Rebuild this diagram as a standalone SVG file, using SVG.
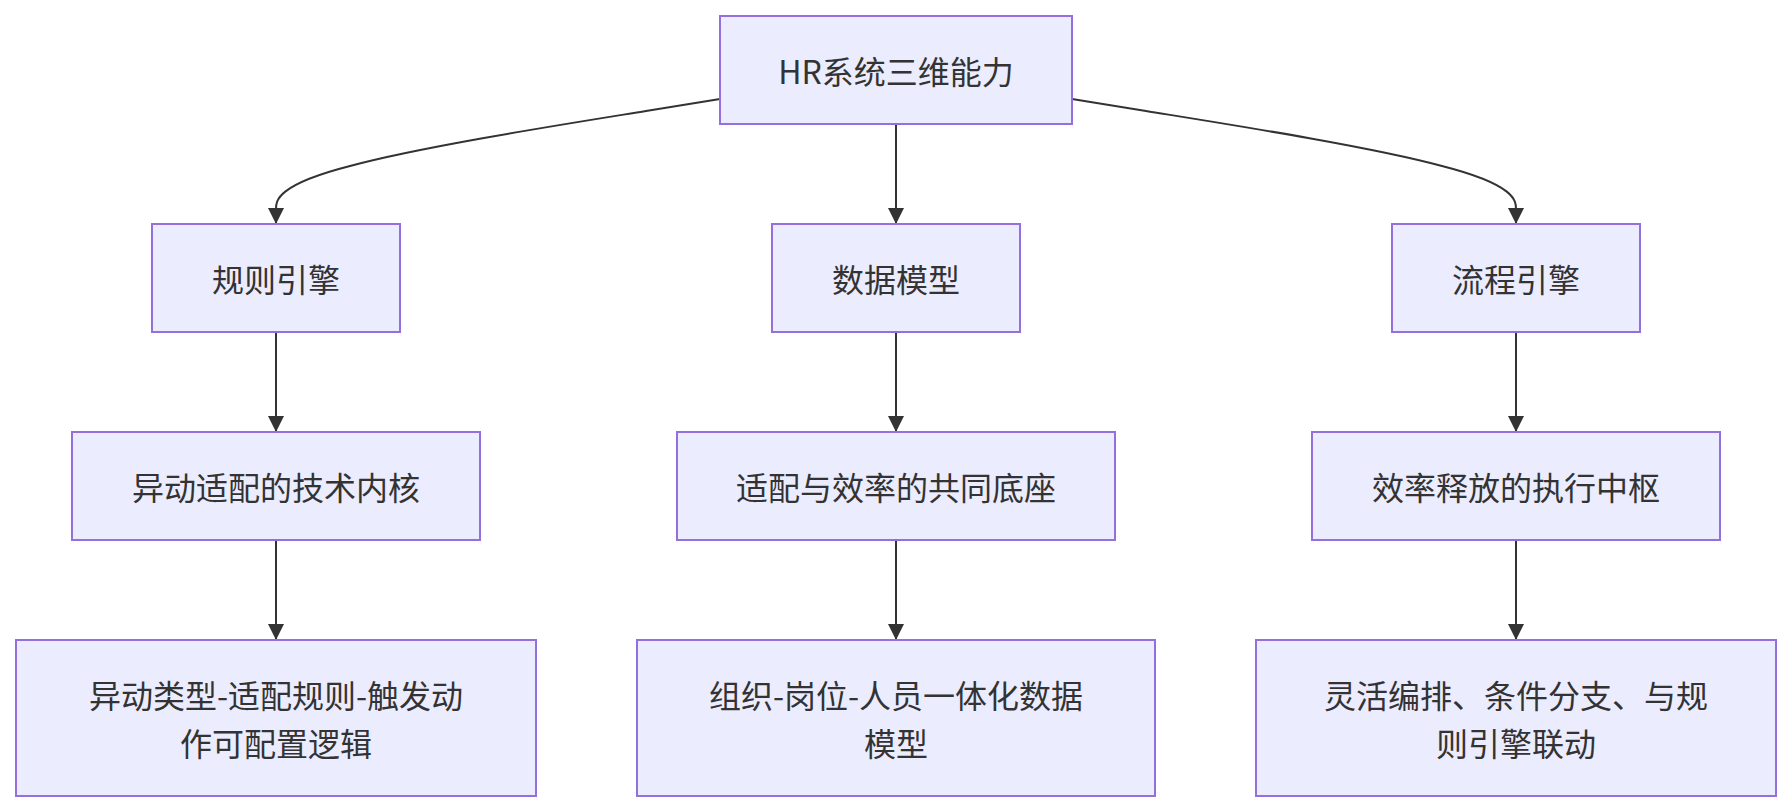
<svg xmlns="http://www.w3.org/2000/svg" width="1792" height="812" viewBox="0 0 1792 812">
<style>
.node rect{fill:#ECECFF;stroke:#9370DB;stroke-width:2;}
.node text{font-family:"Noto Sans CJK SC","Noto Sans",sans-serif;font-size:32px;fill:#333333;text-anchor:middle;dominant-baseline:central;}
.edge{fill:none;stroke:#333333;stroke-width:2;}
</style>
<defs>
<marker id="arrow" viewBox="0 0 10 10" refX="10" refY="5" markerWidth="16" markerHeight="16" markerUnits="userSpaceOnUse" orient="auto">
<path d="M0,0 L10,5 L0,10 z" fill="#333333"/>
</marker>
</defs>
<rect width="1792" height="812" fill="#ffffff"/>
<g id="edges">
<path class="edge" marker-end="url(#arrow)" d="M720,99 L646,111 C572,123 424,146 350,166 C276,185 276,201 276,209 L276,224"/>
<path class="edge" marker-end="url(#arrow)" d="M1072,99 L1146,111 C1220,123 1368,146 1442,166 C1516,185 1516,201 1516,209 L1516,224"/>
<path class="edge" marker-end="url(#arrow)" d="M896,124 L896,224"/>
<path class="edge" marker-end="url(#arrow)" d="M276,332 L276,432"/>
<path class="edge" marker-end="url(#arrow)" d="M896,332 L896,432"/>
<path class="edge" marker-end="url(#arrow)" d="M1516,332 L1516,432"/>
<path class="edge" marker-end="url(#arrow)" d="M276,540 L276,640"/>
<path class="edge" marker-end="url(#arrow)" d="M896,540 L896,640"/>
<path class="edge" marker-end="url(#arrow)" d="M1516,540 L1516,640"/>
</g>
<g id="hr" class="node"><rect x="720" y="16" width="352" height="108"/><text x="896" y="70">HR系统三维能力</text></g>
<g id="rule" class="node"><rect x="152" y="224" width="248" height="108"/><text x="276" y="278">规则引擎</text></g>
<g id="data" class="node"><rect x="772" y="224" width="248" height="108"/><text x="896" y="278">数据模型</text></g>
<g id="flow" class="node"><rect x="1392" y="224" width="248" height="108"/><text x="1516" y="278">流程引擎</text></g>
<g id="rule2" class="node"><rect x="72" y="432" width="408" height="108"/><text x="276" y="486">异动适配的技术内核</text></g>
<g id="data2" class="node"><rect x="677" y="432" width="438" height="108"/><text x="896" y="486">适配与效率的共同底座</text></g>
<g id="flow2" class="node"><rect x="1312" y="432" width="408" height="108"/><text x="1516" y="486">效率释放的执行中枢</text></g>
<g id="rule3" class="node"><rect x="16" y="640" width="520" height="156"/><text x="276" y="694">异动类型-适配规则-触发动</text><text x="276" y="742">作可配置逻辑</text></g>
<g id="data3" class="node"><rect x="637" y="640" width="518" height="156"/><text x="896" y="694">组织-岗位-人员一体化数据</text><text x="896" y="742">模型</text></g>
<g id="flow3" class="node"><rect x="1256" y="640" width="520" height="156"/><text x="1516" y="694">灵活编排、条件分支、与规</text><text x="1516" y="742">则引擎联动</text></g>
</svg>
